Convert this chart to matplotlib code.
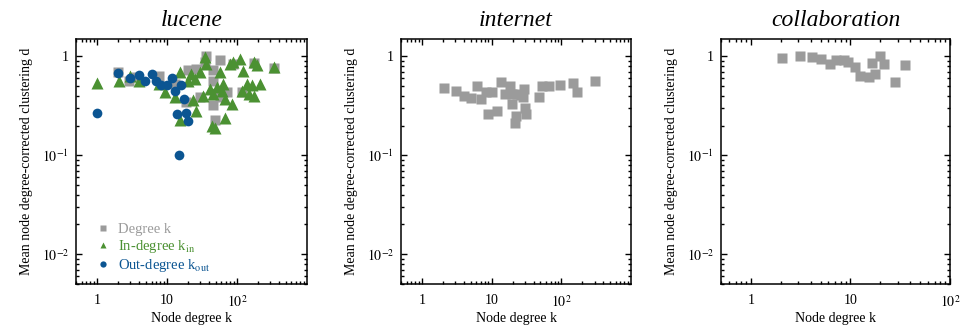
import matplotlib
matplotlib.use("Agg")
import matplotlib.pyplot as plt
from matplotlib.lines import Line2D
from matplotlib.ticker import LogLocator, NullFormatter, FixedLocator, FixedFormatter

plt.rcParams['font.family'] = ['Liberation Serif', 'DejaVu Serif']
plt.rcParams['mathtext.fontset'] = 'stix'

# ---------------- data ----------------
titles = ["lucene", "internet", "collaboration"]
xlabel = "Node degree k"
ylabel = "Mean node degree-corrected clustering d"

# lucene: degree k (grey squares)
luc_deg_k = [36.6, 56.9, 45.6, 26.3, 19.9, 45.6, 71, 45.6, 48.2, 29.4, 18.9, 3.6,
             7.8, 12.8, 2.9, 2.0, 333, 172, 88.5, 34.7, 57, 117]
luc_deg_d = [1.02, 0.91, 0.73, 0.75, 0.73, 0.57, 0.44, 0.32, 0.23, 0.39, 0.35, 0.62,
             0.64, 0.53, 0.57, 0.69, 0.77, 0.85, 0.84, 0.87, 0.39, 0.44]
# lucene: in-degree (green triangles)
luc_in_k = [1.0, 2.03, 2.98, 4.0, 7.8, 9.2, 12.8, 15.1, 19.9, 22.3, 24.9, 29.4, 34.7,
            36.6, 40.9, 45.6, 51, 56.9, 60.2, 63.5, 67.2, 79, 88.5, 110, 123, 138, 163,
            172, 192, 172, 214, 333, 26.3, 43.2, 48.2, 67.2, 84, 15.1, 32.7, 23.5, 117, 146]
luc_in_d = [0.54, 0.56, 0.64, 0.57, 0.53, 0.44, 0.39, 0.69, 0.57, 0.67, 0.59, 0.69, 0.98,
            0.84, 0.47, 0.42, 0.49, 0.69, 0.45, 0.53, 0.37, 0.84, 0.88, 0.95, 0.72, 0.53, 0.51,
            0.88, 0.81, 0.40, 0.53, 0.78, 0.28, 0.20, 0.19, 0.24, 0.33, 0.23, 0.40, 0.36, 0.45, 0.42]
# lucene: out-degree (blue circles)
luc_out_k = [1.0, 1.96, 2.92, 3.93, 4.9, 6.0, 7.0, 8.3, 9.9, 11.9, 12.8, 16, 17.3,
             13.8, 18.9, 19.7, 14.8]
luc_out_d = [0.27, 0.68, 0.61, 0.65, 0.56, 0.67, 0.57, 0.52, 0.51, 0.60, 0.45, 0.51, 0.37,
             0.26, 0.27, 0.22, 0.10]

# internet: degree k
int_k = [2.04, 3.06, 4.0, 5.0, 6.1, 7.1, 8.2, 10.2, 8.9, 11.8, 13.4, 18.3, 15.8, 19.7,
         23.3, 19.5, 22, 21.3, 29, 28.3, 30.6, 31.3, 47.4, 53, 65.9, 96.8, 145, 168, 306, 26]
int_d = [0.48, 0.45, 0.40, 0.38, 0.50, 0.37, 0.44, 0.44, 0.26, 0.28, 0.55, 0.50, 0.42, 0.42,
         0.42, 0.33, 0.25, 0.21, 0.47, 0.39, 0.30, 0.26, 0.39, 0.50, 0.50, 0.52, 0.54, 0.44, 0.56, 0.41]

# collaboration: degree k
col_k = [2.07, 3.09, 4.1, 5.1, 6.2, 7.2, 8.6, 9.5, 11, 12.6, 15.2, 16.5, 17.8, 20, 21.5, 27.8, 35.5]
col_d = [0.96, 1.0, 0.98, 0.95, 0.84, 0.93, 0.93, 0.88, 0.79, 0.64, 0.62, 0.86, 0.67, 1.0, 0.84, 0.55, 0.81]

xlims = [(0.5, 1000), (0.5, 1000), (0.5, 100)]
ylim = (0.005, 1.5)
xticks = [1, 10, 100]
xticklabels = ["1", "10", r"$10^{2}$"]
yticks = [0.01, 0.1, 1]
yticklabels = [r"$10^{-2}$", r"$10^{-1}$", "1"]

legend_labels = ["Degree k", r"In-degree k$_{\mathrm{in}}$", r"Out-degree k$_{\mathrm{out}}$"]

GREY = "#9b9b9b"
GREEN = "#4b9132"
BLUE = "#0b5592"

# ---------------- figure ----------------
W, H = 964, 329
fig = plt.figure(figsize=(W / 100, H / 100), dpi=100)

lefts = [76, 401, 721]
rights = [307, 631, 950]
top, bottom = 39, 284

axes = []
for i in range(3):
    ax = fig.add_axes([lefts[i] / W, 1 - bottom / H, (rights[i] - lefts[i]) / W, (bottom - top) / H])
    ax.set_xscale('log')
    ax.set_yscale('log')
    ax.set_xlim(*xlims[i])
    ax.set_ylim(*ylim)
    ax.xaxis.set_major_locator(FixedLocator(xticks))
    ax.xaxis.set_major_formatter(FixedFormatter(xticklabels))
    ax.yaxis.set_major_locator(FixedLocator(yticks))
    ax.yaxis.set_major_formatter(FixedFormatter(yticklabels))
    ax.xaxis.set_minor_locator(LogLocator(base=10, subs=range(2, 10), numticks=20))
    ax.yaxis.set_minor_locator(LogLocator(base=10, subs=range(2, 10), numticks=20))
    ax.xaxis.set_minor_formatter(NullFormatter())
    ax.yaxis.set_minor_formatter(NullFormatter())
    ax.tick_params(which='both', direction='in', top=True, right=True, width=1.0)
    ax.tick_params(which='major', length=4, labelsize=10, pad=7)
    ax.tick_params(axis='y', which='major', pad=5)
    ax.tick_params(which='minor', length=2.2)
    for s in ax.spines.values():
        s.set_linewidth(1.1)
    ax.set_title(titles[i], fontsize=17, style='italic', pad=9)
    ax.set_xlabel(xlabel, fontsize=10, labelpad=2)
    ax.set_ylabel(ylabel, fontsize=10, labelpad=6)
    axes.append(ax)

ax = axes[0]
ax.plot(luc_deg_k, luc_deg_d, 's', color=GREY, ms=6.8, mec='none')
ax.plot(luc_in_k, luc_in_d, '^', color=GREEN, ms=8.5, mec='none')
ax.plot(luc_out_k, luc_out_d, 'o', color=BLUE, ms=7, mec='none')

handles = [Line2D([], [], ls='none', marker='s', color=GREY, ms=4.5, mec='none'),
           Line2D([], [], ls='none', marker='^', color=GREEN, ms=5, mec='none'),
           Line2D([], [], ls='none', marker='o', color=BLUE, ms=4.5, mec='none')]
leg = ax.legend(handles, legend_labels, loc='lower left', frameon=False, fontsize=10.5,
                handlelength=1.0, handletextpad=0.5, labelspacing=0.15,
                bbox_to_anchor=(0.06, 0.015), borderaxespad=0.0)
for t, c in zip(leg.get_texts(), [GREY, GREEN, BLUE]):
    t.set_color(c)

axes[1].plot(int_k, int_d, 's', color=GREY, ms=6.8, mec='none')
axes[2].plot(col_k, col_d, 's', color=GREY, ms=6.8, mec='none')

fig.savefig("out.png", dpi=100)
